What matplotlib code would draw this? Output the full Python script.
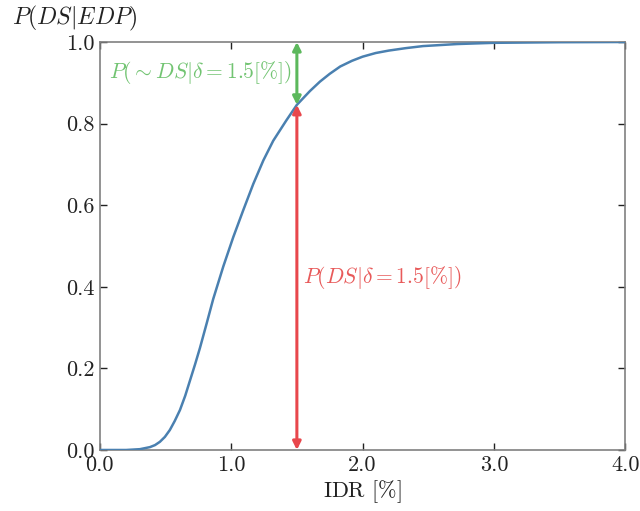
import matplotlib
matplotlib.use('Agg')
import matplotlib.pyplot as plt

plt.rcParams['font.family'] = 'serif'
plt.rcParams['font.serif'] = ['cmr10', 'DejaVu Serif']
plt.rcParams['mathtext.fontset'] = 'cm'
plt.rcParams['axes.unicode_minus'] = False
plt.rcParams['axes.formatter.use_mathtext'] = True

# fragility curve
idr = [0.0, 0.2, 0.305, 0.381, 0.42, 0.457, 0.495, 0.533, 0.57, 0.61, 0.65, 0.686,
       0.725, 0.762, 0.813, 0.863, 0.94, 1.016, 1.092, 1.168, 1.245, 1.32, 1.42,
       1.5, 1.6, 1.676, 1.75, 1.83, 1.92, 2.0, 2.1, 2.2, 2.33, 2.46, 2.72, 3.0,
       3.5, 4.0]
prob = [0.0, 0.0, 0.002, 0.007, 0.012, 0.02, 0.032, 0.049, 0.071, 0.098, 0.133,
        0.17, 0.21, 0.25, 0.31, 0.37, 0.45, 0.522, 0.588, 0.652, 0.71, 0.758,
        0.808, 0.846, 0.88, 0.903, 0.922, 0.94, 0.954, 0.964, 0.973, 0.979, 0.985,
        0.99, 0.995, 0.998, 0.9995, 1.0]

delta = 1.5
p_delta = 0.846

xticks = [0.0, 1.0, 2.0, 3.0, 4.0]
yticks = [0.0, 0.2, 0.4, 0.6, 0.8, 1.0]

red = '#e8474c'
green = '#5cb85c'
blue = '#4a80b0'

fig = plt.figure(figsize=(6.4, 5.11), dpi=100)
ax = fig.add_axes([0.156, 0.1194, 0.821, 0.7984])

ax.plot(idr, prob, color=blue, lw=1.8, zorder=3)

ax.annotate('', xy=(delta, 0.0), xytext=(delta, p_delta),
            arrowprops=dict(arrowstyle='<|-|>', color=red, lw=2.2,
                            mutation_scale=12, shrinkA=0, shrinkB=0))
ax.annotate('', xy=(delta, p_delta), xytext=(delta, 1.0),
            arrowprops=dict(arrowstyle='<|-|>', color=green, lw=2.2,
                            mutation_scale=12, shrinkA=0, shrinkB=0))

ax.text(0.07, 0.925, r'$P(\sim DS|\delta=1.5[\%])$', color='#72c472',
        fontsize=15.5, va='center', ha='left')
ax.text(1.55, 0.424, r'$P(DS|\delta=1.5[\%])$', color='#e85a5a',
        fontsize=15.5, va='center', ha='left')

ax.set_xlim(0, 4)
ax.set_ylim(0, 1)
ax.set_xticks(xticks)
ax.set_yticks(yticks)
ax.set_xticklabels(['%.1f' % t for t in xticks])
ax.set_yticklabels(['%.1f' % t for t in yticks])
ax.tick_params(direction='in', top=True, right=True, length=5, width=1,
               labelsize=16, pad=4, color='#222222', labelcolor='#222222')
for s in ax.spines.values():
    s.set_color('#808080')
    s.set_linewidth(1.2)

ax.set_xlabel(r'IDR $[\%]$', fontsize=16, color='#222222', labelpad=2)
ax.text(-0.168, 1.022, r'$P(DS|EDP)$', transform=ax.transAxes, fontsize=17,
        color='#222222', ha='left', va='bottom')

fig.savefig('out.png', dpi=100)
